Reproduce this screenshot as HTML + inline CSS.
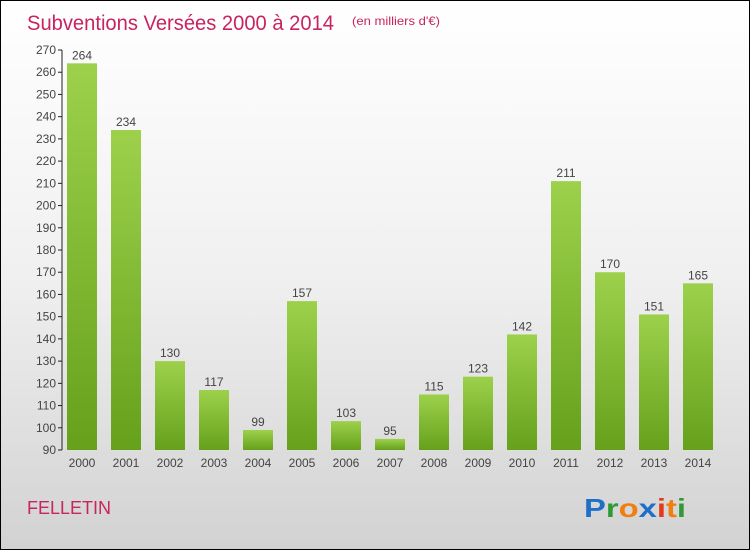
<!DOCTYPE html>
<html><head><meta charset="utf-8"><style>
body{margin:0}
#c{position:relative;width:748px;height:548px;border:1px solid #000;background:linear-gradient(#fff 0%,#f0f0f0 50%,#d2d2d2 100%);font-family:"Liberation Sans",sans-serif;overflow:hidden}
</style></head><body>
<div id="c">
<svg id="s" width="748" height="548" xmlns="http://www.w3.org/2000/svg">
<defs><linearGradient id="g" x1="0" y1="0" x2="0" y2="1"><stop offset="0" stop-color="#9dd14c"/><stop offset="1" stop-color="#66a11b"/></linearGradient></defs>
<text x="26" y="29" font-size="21" fill="#c8245f" textLength="307" lengthAdjust="spacingAndGlyphs">Subventions Versées 2000 à 2014</text>
<text x="351" y="24" font-size="12" fill="#c8245f" textLength="88" lengthAdjust="spacingAndGlyphs">(en milliers d'€)</text>
<text x="26" y="513" font-size="18" fill="#c8245f">FELLETIN</text>
<g font-size="26" font-weight="bold" font-family="Liberation Sans, sans-serif">
<text x="583" y="516" textLength="102" lengthAdjust="spacingAndGlyphs"><tspan fill="#1f6fc9">P</tspan><tspan fill="#2e9a35">r</tspan><tspan fill="#f07f12">o</tspan><tspan fill="#1f6fc9">x</tspan><tspan fill="#e33a1a">i</tspan><tspan fill="#f07f12">t</tspan><tspan fill="#2e9a35">i</tspan></text></g>
<g id="ax"></g><g id="bars"></g>
</svg></div>
<script>
const years=["2000","2001","2002","2003","2004","2005","2006","2007","2008","2009","2010","2011","2012","2013","2014"];
const values=[264,234,130,117,99,157,103,95,115,123,142,211,170,151,165];
const yTicks=[90,100,110,120,130,140,150,160,170,180,190,200,210,220,230,240,250,260,270];
const NS="http://www.w3.org/2000/svg";
const y0=449,y1=49,vmin=90,vmax=270,x0=81,step=44,bw=30;
const Y=v=>y0-(v-vmin)/(vmax-vmin)*(y0-y1);
const X=i=>x0+i*step;
function mk(t,a,p){const e=document.createElementNS(NS,t);for(const k in a)e.setAttribute(k,a[k]);p.appendChild(e);return e;}
const ax=document.getElementById('ax'),bars=document.getElementById('bars');
const al=mk('line',{x1:61,y1:y1,x2:61,y2:y0,stroke:'#222','stroke-width':1},ax);


yTicks.forEach(v=>{
const tk=mk('line',{x1:57,x2:61,y1:Y(v),y2:Y(v),stroke:'#222'},ax);


const t=mk('text',{x:55,y:Y(v)+4,'text-anchor':'end','font-size':12,fill:'#444'},ax);t.textContent=v;


});
values.forEach((v,i)=>{
const r=mk('rect',{x:X(i)-bw/2,y:Y(v),width:bw,height:y0-Y(v),fill:'url(#g)'},bars);


const t=mk('text',{x:X(i),y:Y(v)-4,'text-anchor':'middle','font-size':12,fill:'#444'},bars);t.textContent=v;


const l=mk('text',{x:X(i),y:466,'text-anchor':'middle','font-size':12,fill:'#444'},bars);l.textContent=years[i];


});
</script>
</body></html>
